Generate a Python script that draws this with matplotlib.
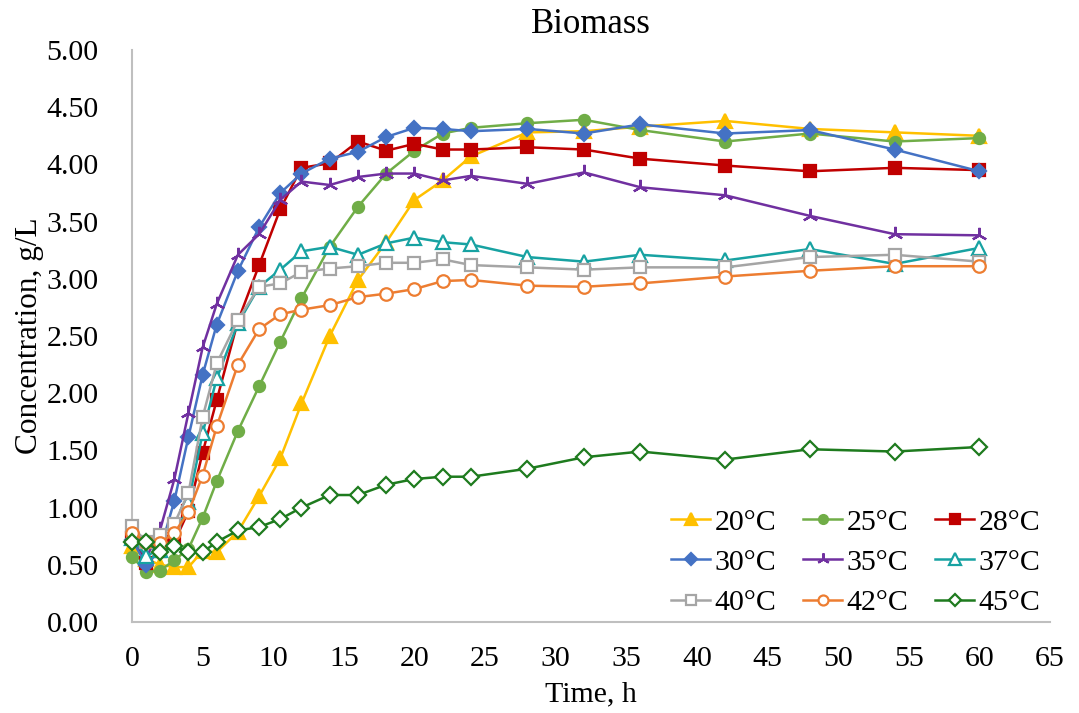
import matplotlib
matplotlib.use('Agg')
from matplotlib import pyplot as plt
import numpy as np

plt.rcParams['font.family'] = ['Liberation Serif', 'DejaVu Serif']

# sampling times, h
time_h = [0, 1, 2, 3, 4, 5, 6, 7.5, 9, 10.5, 12, 14, 16, 18, 20, 22, 24, 28, 32, 36, 42, 48, 54, 60]

# biomass concentration, g/L, one list per temperature
c20 = [0.66, 0.55, 0.50, 0.48, 0.48, 0.62, 0.61, 0.79, 1.10, 1.43, 1.91, 2.50, 2.99, 3.32, 3.69, 3.86, 4.07, 4.28, 4.29, 4.33, 4.38, 4.31, 4.28, 4.25]
c25 = [0.57, 0.44, 0.45, 0.54, 0.64, 0.91, 1.23, 1.67, 2.06, 2.45, 2.83, 3.28, 3.63, 3.92, 4.12, 4.27, 4.32, 4.36, 4.39, 4.30, 4.20, 4.27, 4.20, 4.23]
c28 = [0.73, 0.52, 0.62, 0.70, 0.97, 1.48, 1.94, 2.63, 3.12, 3.61, 3.97, 4.01, 4.20, 4.12, 4.18, 4.13, 4.13, 4.15, 4.13, 4.05, 3.99, 3.94, 3.97, 3.95]
c30 = [0.72, 0.50, 0.63, 1.06, 1.62, 2.16, 2.60, 3.07, 3.45, 3.75, 3.92, 4.05, 4.11, 4.24, 4.32, 4.31, 4.29, 4.31, 4.27, 4.35, 4.27, 4.30, 4.13, 3.94]
c35 = [0.74, 0.56, 0.81, 1.25, 1.83, 2.40, 2.78, 3.21, 3.39, 3.69, 3.85, 3.82, 3.89, 3.92, 3.92, 3.86, 3.90, 3.83, 3.93, 3.80, 3.73, 3.55, 3.39, 3.38]
c37 = [0.73, 0.58, 0.63, 0.70, 1.05, 1.65, 2.13, 2.61, 2.93, 3.08, 3.24, 3.28, 3.21, 3.31, 3.36, 3.32, 3.30, 3.19, 3.15, 3.21, 3.16, 3.26, 3.13, 3.27]
c40 = [0.84, 0.70, 0.76, 0.86, 1.13, 1.79, 2.26, 2.64, 2.93, 2.96, 3.06, 3.09, 3.11, 3.14, 3.14, 3.17, 3.12, 3.10, 3.08, 3.10, 3.10, 3.19, 3.21, 3.15]
c42 = [0.78, 0.70, 0.69, 0.78, 0.96, 1.28, 1.71, 2.25, 2.56, 2.69, 2.73, 2.77, 2.84, 2.87, 2.91, 2.98, 2.99, 2.94, 2.93, 2.96, 3.02, 3.07, 3.11, 3.11]
c45 = [0.70, 0.70, 0.61, 0.66, 0.61, 0.61, 0.70, 0.80, 0.83, 0.90, 1.00, 1.11, 1.11, 1.20, 1.25, 1.27, 1.27, 1.34, 1.44, 1.49, 1.42, 1.51, 1.49, 1.53]

labels = ['20°C', '25°C', '28°C', '30°C', '35°C', '37°C', '40°C', '42°C', '45°C']
series = [c20, c25, c28, c30, c35, c37, c40, c42, c45]

# colour, marker, marker size, filled?
styles = [
    ('#FFC000', '^', 10, True),
    ('#70AD47', 'o', 8, True),
    ('#C00000', 's', 8.5, True),
    ('#4472C4', 'D', 7.5, True),
    ('#7030A0', (3, 2, 0), 11, True),
    ('#17A2A2', '^', 10, False),
    ('#A5A5A5', 's', 8.5, False),
    ('#ED7D31', 'o', 9, False),
    ('#1E7B1E', 'D', 8, False),
]

fig = plt.figure(figsize=(10.79, 7.13), dpi=100)
ax = fig.add_axes([132/1079, 1-622/713, (1050-132)/1079, (622-50)/713])

handles = []
for k, (ys, lab, st) in enumerate(zip(series, labels, styles)):
    col, mk, ms, filled = st
    h, = ax.plot(time_h, ys, color=col, lw=1.8, marker=mk, ms=ms,
                 mfc=col if filled else 'white', mec=col, mew=1.6,
                 label=lab, zorder=3+k, clip_on=False)
    handles.append(h)

ax.set_xlim(0, 65)
ax.set_ylim(0, 5)
ax.set_xticks(np.arange(0, 66, 5))
ax.set_yticks(np.arange(0, 5.01, 0.5))
ax.set_yticklabels(['%.2f' % v for v in np.arange(0, 5.01, 0.5)])
ax.tick_params(length=0, labelsize=21.5)
ax.tick_params(axis='x', pad=17)
ax.tick_params(axis='y', pad=24)

for s in ['top', 'right']:
    ax.spines[s].set_visible(False)
for s in ['left', 'bottom']:
    ax.spines[s].set_color('#BFBFBF')
    ax.spines[s].set_linewidth(1.5)

ax.set_title('Biomass', fontsize=25, pad=12)
ax.set_xlabel('Time, h', fontsize=21.5, labelpad=7)
ax.set_ylabel('Concentration, g/L', fontsize=22.5, labelpad=2)

# legend reads row by row: matplotlib fills columns, so reorder
order = [0, 3, 6, 1, 4, 7, 2, 5, 8]
ax.legend([handles[i] for i in order], [labels[i] for i in order],
          ncol=3, loc='lower right', bbox_to_anchor=(1.006, -0.016), frameon=False,
          fontsize=21.5, handlelength=1.3, handletextpad=0.15, columnspacing=0.9,
          labelspacing=0.45, borderaxespad=0.1, markerscale=0.8)

fig.savefig('out.png', dpi=100)
